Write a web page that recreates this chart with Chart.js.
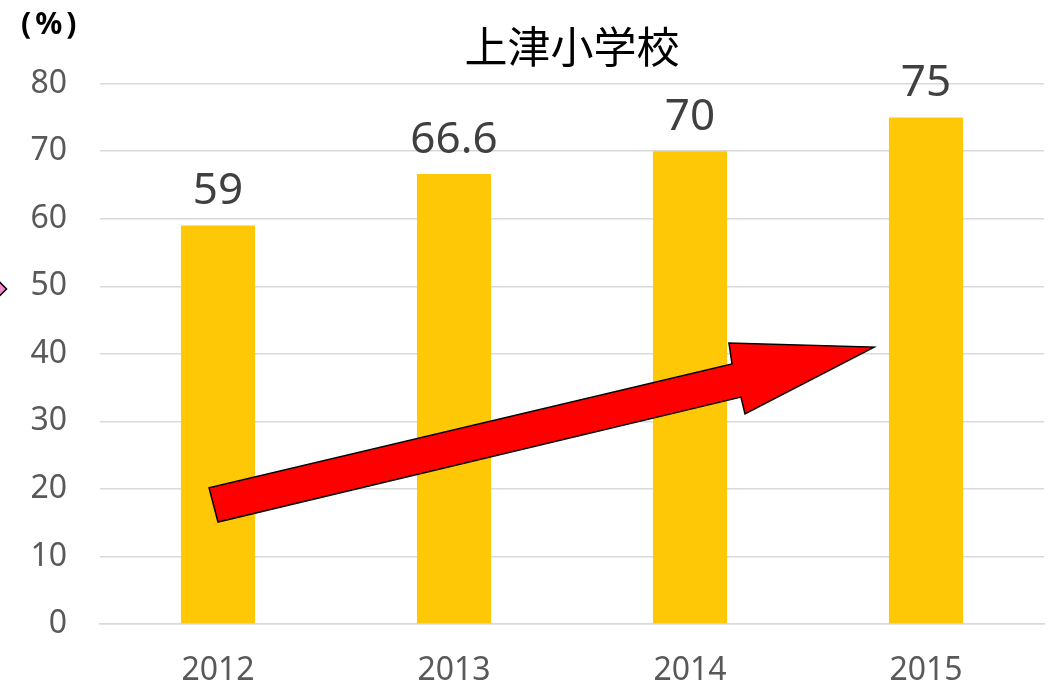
<!DOCTYPE html>
<html lang="ja">
<head>
  <meta charset="UTF-8" />
  <title>上津小学校</title>
  <script src="https://cdn.jsdelivr.net/npm/chart.js"></script>
  <style>
    body { margin: 0; background: #fff; }
    #wrap { width: 1050px; height: 686px; }
  </style>
</head>
<body>
  <div id="wrap"><canvas id="chart"></canvas></div>
  <script>
    const years = ["2012", "2013", "2014", "2015"];
    const rates = [59, 66.6, 70, 75];
    const yTicks = [0, 10, 20, 30, 40, 50, 60, 70, 80];

    // red arrow outline, in (category index, value) space
    const arrowX = [-0.038, 0, 2.216, 2.233, 2.78, 2.165, 2.178];
    const arrowY = [20.15, 15.1, 33.6, 31.1, 41.0, 41.6, 38.5];

    const numFont = "'Noto Sans', 'Open Sans', sans-serif";

    const extras = {
      id: "extras",
      afterDatasetsDraw(chart) {
        const ctx = chart.ctx;
        const xs = chart.scales.x, ys = chart.scales.y;
        const meta = chart.getDatasetMeta(0);

        // value labels above bars
        ctx.save();
        ctx.fillStyle = "#404040";
        ctx.font = "44px " + numFont;
        ctx.textAlign = "center";
        ctx.textBaseline = "alphabetic";
        meta.data.forEach((bar, i) => {
          ctx.fillText(String(rates[i]), bar.x, bar.y - 21);
        });
        ctx.restore();

        // arrow
        ctx.save();
        ctx.beginPath();
        arrowX.forEach((v, i) => {
          const px = xs.getPixelForValue(v), py = ys.getPixelForValue(arrowY[i]);
          if (i === 0) ctx.moveTo(px, py); else ctx.lineTo(px, py);
        });
        ctx.closePath();
        ctx.fillStyle = "#ff0000";
        ctx.fill();
        ctx.lineWidth = 1.5;
        ctx.strokeStyle = "#000";
        ctx.stroke();
        ctx.restore();

        // small pink diamond cut off at the left edge
        ctx.save();
        const dx = xs.getPixelForValue(-0.93), dy = ys.getPixelForValue(49.6);
        ctx.beginPath();
        ctx.moveTo(dx, dy - 8);
        ctx.lineTo(dx + 8, dy);
        ctx.lineTo(dx, dy + 8);
        ctx.lineTo(dx - 8, dy);
        ctx.closePath();
        ctx.fillStyle = "#f08cc8";
        ctx.fill();
        ctx.lineWidth = 1.5;
        ctx.strokeStyle = "#000";
        ctx.stroke();
        ctx.restore();

        // unit label
        ctx.save();
        ctx.fillStyle = "#000";
        ctx.font = "bold 30px " + numFont;
        ctx.letterSpacing = "4px";
        ctx.textAlign = "left";
        ctx.textBaseline = "middle";
        ctx.fillText("(%)", 21, 25);
        ctx.restore();
      }
    };

    new Chart(document.getElementById("chart"), {
      type: "bar",
      data: {
        labels: years,
        datasets: [{
          data: rates,
          backgroundColor: "#ffc806",
          categoryPercentage: 1,
          barPercentage: 0.314
        }]
      },
      options: {
        responsive: true,
        maintainAspectRatio: false,
        animation: false,
        layout: { padding: { left: 0, right: 6, top: 0, bottom: 0 } },
        plugins: {
          legend: { display: false },
          tooltip: { enabled: false },
          title: {
            display: true,
            fullSize: false,
            text: "上津小学校",
            color: "#000",
            font: { family: "'Noto Sans CJK JP', sans-serif", size: 43, weight: "normal", lineHeight: 1.2 },
            padding: { top: 21, bottom: 11 }
          }
        },
        scales: {
          x: {
            grid: { display: false, drawTicks: false },
            border: { color: "#d9d9d9", width: 1.5 },
            ticks: { color: "#595959", font: { family: numFont, size: 32 }, padding: 28 },
            afterFit(scale) { scale.height = 62; }
          },
          y: {
            min: 0,
            max: 80,
            afterBuildTicks(scale) { scale.ticks = yTicks.map(v => ({ value: v })); },
            grid: { color: "#d9d9d9", lineWidth: 1.5, drawTicks: false },
            border: { display: false },
            ticks: { color: "#595959", font: { family: numFont, size: 32 }, padding: 33 },
            afterFit(scale) { scale.width = 100; }
          }
        }
      },
      plugins: [extras]
    });
  </script>
</body>
</html>
